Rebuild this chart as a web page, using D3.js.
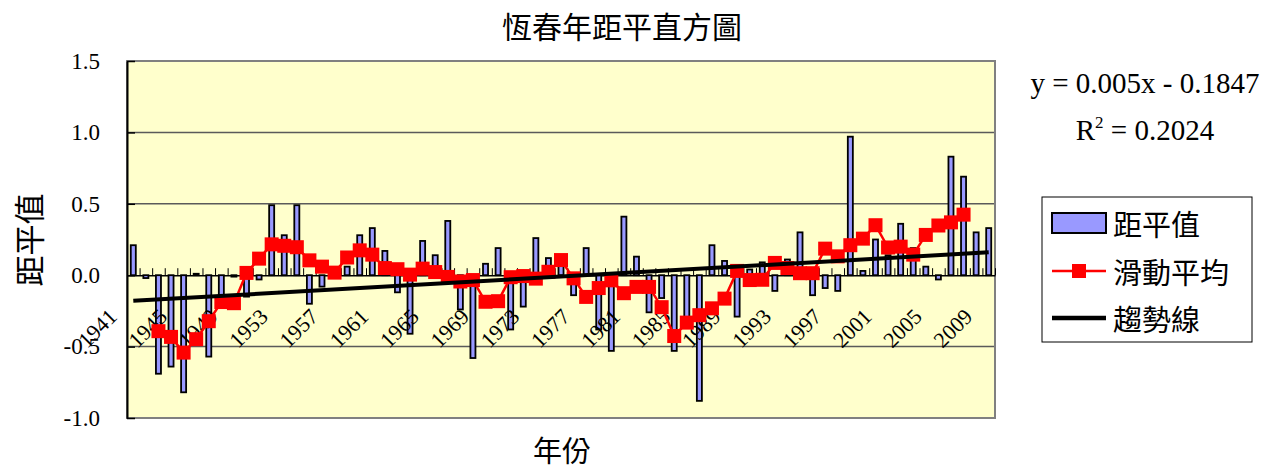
<!DOCTYPE html>
<html>
<head>
<meta charset="utf-8">
<script src="https://cdn.jsdelivr.net/npm/d3@7/dist/d3.min.js"></script>
<style>
  body { margin: 0; background: #fff; }
  svg { display: block; }
</style>
</head>
<body>
<svg id="chart" width="1277" height="470"></svg>
<script>
// Yearly temperature anomaly, Hengchun station, 1941-2009
const years = [1941,1942,1943,1944,1945,1946,1947,1948,1949,1950,
  1951,1952,1953,1954,1955,1956,1957,1958,1959,1960,
  1961,1962,1963,1964,1965,1966,1967,1968,1969,1970,
  1971,1972,1973,1974,1975,1976,1977,1978,1979,1980,
  1981,1982,1983,1984,1985,1986,1987,1988,1989,1990,
  1991,1992,1993,1994,1995,1996,1997,1998,1999,2000,
  2001,2002,2003,2004,2005,2006,2007,2008,2009];

const anomaly = [0.21,-0.02,-0.69,-0.64,-0.82,0.01,-0.57,-0.22,-0.01,-0.15,
  -0.03,0.49,0.28,0.49,-0.20,-0.08,0.03,0.06,0.28,0.33,
  0.17,-0.12,-0.41,0.24,0.14,0.38,-0.24,-0.58,0.08,0.19,
  -0.38,-0.22,0.26,0.12,0.10,-0.14,0.19,-0.38,-0.53,0.41,
  0.13,-0.26,-0.16,-0.53,-0.30,-0.88,0.21,0.10,-0.29,0.04,
  0.09,-0.11,0.11,0.30,-0.14,-0.09,-0.11,0.97,0.03,0.25,
  0.14,0.36,0.19,0.06,-0.03,0.83,0.69,0.30,0.33];

// 5-year centred moving average (null where the window is incomplete)
const movingAvg = [null,null,-0.392,-0.432,-0.542,-0.448,-0.322,-0.188,-0.196,0.016,
  0.116,0.216,0.206,0.196,0.104,0.060,0.018,0.124,0.174,0.144,
  0.050,0.042,0.004,0.046,0.022,-0.012,-0.044,-0.034,-0.186,-0.182,
  -0.014,-0.006,-0.024,0.024,0.106,-0.022,-0.152,-0.090,-0.036,-0.126,
  -0.082,-0.082,-0.224,-0.426,-0.332,-0.280,-0.232,-0.164,0.030,-0.034,
  -0.032,0.086,0.050,0.014,0.014,0.186,0.132,0.210,0.256,0.350,
  0.194,0.200,0.144,0.282,0.348,0.370,0.424,null,null];

const tickYears = [1941,1945,1949,1953,1957,1961,1965,1969,1973,1977,1981,1985,1989,1993,1997,2001,2005,2009];
const yTicks = [-1.0,-0.5,0.0,0.5,1.0,1.5];
const gridValues = [-0.5,0.5,1.0];

// Linear trend: y = 0.005x - 0.1847 (x = 1 for the first year)
const trendSlope = 0.005;
const trendIntercept = -0.1847;
const trendR2 = "0.2024";

const serif = "'Liberation Serif','Times New Roman',serif";
const cjk = "'Noto Sans CJK TC','Noto Sans CJK SC',sans-serif";

const svg = d3.select("#chart");
const plot = {left: 127, right: 995, top: 61, bottom: 418};

const x = d3.scaleBand().domain(years).range([plot.left, plot.right]).padding(0);
const y = d3.scaleLinear().domain([-1.0, 1.5]).range([plot.bottom, plot.top]);
const idx = d3.scaleLinear().domain([0, years.length]).range([plot.left, plot.right]);
const barW = x.bandwidth() / 2.5;
const cx = yr => x(yr) + x.bandwidth() / 2;
const fmt1 = v => d3.format(".1f")(v).replace("\u2212", "-");

// plot background
svg.append("rect")
  .attr("x", plot.left).attr("y", plot.top)
  .attr("width", plot.right - plot.left).attr("height", plot.bottom - plot.top)
  .attr("fill", "#FFFFCC");

// horizontal gridlines
svg.append("g").selectAll("line").data(gridValues).join("line")
  .attr("x1", plot.left).attr("x2", plot.right)
  .attr("y1", d => y(d)).attr("y2", d => y(d))
  .attr("stroke", "#5a5a5a").attr("stroke-width", 1.5);

// plot frame
svg.append("rect")
  .attr("x", plot.left).attr("y", plot.top)
  .attr("width", plot.right - plot.left).attr("height", plot.bottom - plot.top)
  .attr("fill", "none").attr("stroke", "#808080").attr("stroke-width", 2);

// y axis
const yAxis = svg.append("g")
  .attr("transform", `translate(${plot.left},0)`)
  .call(d3.axisLeft(y).tickValues(yTicks).tickFormat(fmt1)
    .tickSizeInner(-8).tickSizeOuter(0).tickPadding(27));
yAxis.select(".domain").attr("stroke", "#000").attr("stroke-width", 2);
yAxis.selectAll(".tick line").attr("stroke", "#000").attr("stroke-width", 1.5);
yAxis.selectAll(".tick text")
  .attr("font-family", serif).attr("font-size", 23).attr("fill", "#000");

// category axis along zero, ticks at category boundaries
const xAxis = svg.append("g")
  .attr("transform", `translate(0,${y(0)})`)
  .call(d3.axisTop(idx).tickValues(d3.range(years.length + 1))
    .tickSizeInner(7).tickSizeOuter(0).tickFormat(""));
xAxis.select(".domain").attr("stroke", "#000").attr("stroke-width", 1.5);
xAxis.selectAll(".tick line").attr("stroke", "#000").attr("stroke-width", 1);

// anomaly bars
svg.append("g").selectAll("rect").data(years.map((yr, i) => ({yr, v: anomaly[i]}))).join("rect")
  .attr("x", d => cx(d.yr) - barW / 2)
  .attr("y", d => Math.min(y(d.v), y(0)))
  .attr("width", barW)
  .attr("height", d => Math.abs(y(d.v) - y(0)))
  .attr("fill", "#9999FF").attr("stroke", "#000").attr("stroke-width", 1.8);

// rotated year labels
svg.append("g").selectAll("text").data(tickYears).join("text")
  .attr("transform", d => `translate(${cx(d) - 15},318) rotate(-45)`)
  .attr("text-anchor", "end")
  .attr("font-family", serif).attr("font-size", 22).attr("fill", "#000")
  .text(d => d);

// moving average
const maPts = years.map((yr, i) => ({yr, v: movingAvg[i]})).filter(d => d.v !== null);
svg.append("path").datum(maPts)
  .attr("d", d3.line().x(d => cx(d.yr)).y(d => y(d.v)))
  .attr("fill", "none").attr("stroke", "#FF0000").attr("stroke-width", 2.5);
svg.append("g").selectAll("rect").data(maPts).join("rect")
  .attr("x", d => cx(d.yr) - 7).attr("y", d => y(d.v) - 7)
  .attr("width", 14).attr("height", 14).attr("fill", "#FF0000");

// trend line
const first = years[0], last = years[years.length - 1];
const trendPts = [
  {yr: first, v: trendSlope * 1 + trendIntercept},
  {yr: last, v: trendSlope * years.length + trendIntercept}
];
svg.append("path").datum(trendPts)
  .attr("d", d3.line().x(d => cx(d.yr)).y(d => y(d.v)))
  .attr("stroke", "#000").attr("stroke-width", 4);

// titles
svg.append("text").attr("x", 622).attr("y", 38).attr("text-anchor", "middle")
  .attr("font-family", cjk).attr("font-size", 30).text("恆春年距平直方圖");
svg.append("text").attr("transform", "translate(27,240) rotate(-90)")
  .attr("text-anchor", "middle").attr("dominant-baseline", "central")
  .attr("font-family", cjk).attr("font-size", 31).text("距平值");
svg.append("text").attr("x", 562).attr("y", 462).attr("text-anchor", "middle")
  .attr("font-family", cjk).attr("font-size", 29).text("年份");

// trend equation
svg.append("text").attr("x", 1145).attr("y", 93).attr("text-anchor", "middle")
  .attr("font-family", serif).attr("font-size", 29)
  .text(`y = ${trendSlope}x - ${Math.abs(trendIntercept)}`);
const r2 = svg.append("text").attr("x", 1145).attr("y", 140).attr("text-anchor", "middle")
  .attr("font-family", serif).attr("font-size", 29);
r2.append("tspan").text("R");
r2.append("tspan").attr("dy", -12).attr("font-size", 17).text("2");
r2.append("tspan").attr("dy", 12).text(` = ${trendR2}`);

// legend
const lg = svg.append("g");
lg.append("rect").attr("x", 1042).attr("y", 197).attr("width", 210).attr("height", 145)
  .attr("fill", "#fff").attr("stroke", "#000").attr("stroke-width", 1);
lg.append("rect").attr("x", 1052).attr("y", 213).attr("width", 54).attr("height", 20)
  .attr("fill", "#9999FF").attr("stroke", "#000").attr("stroke-width", 2);
lg.append("line").attr("x1", 1052).attr("x2", 1106).attr("y1", 271).attr("y2", 271)
  .attr("stroke", "#FF0000").attr("stroke-width", 2.5);
lg.append("rect").attr("x", 1072).attr("y", 264).attr("width", 14).attr("height", 14).attr("fill", "#FF0000");
lg.append("line").attr("x1", 1052).attr("x2", 1106).attr("y1", 318).attr("y2", 318)
  .attr("stroke", "#000").attr("stroke-width", 4.5);
const legendLabels = ["距平值", "滑動平均", "趨勢線"];
lg.selectAll("text.lbl").data(legendLabels).join("text").attr("class", "lbl")
  .attr("x", 1113).attr("y", (d, i) => [223, 271, 318][i])
  .attr("dominant-baseline", "central")
  .attr("font-family", cjk).attr("font-size", 29).text(d => d);
</script>
</body>
</html>
